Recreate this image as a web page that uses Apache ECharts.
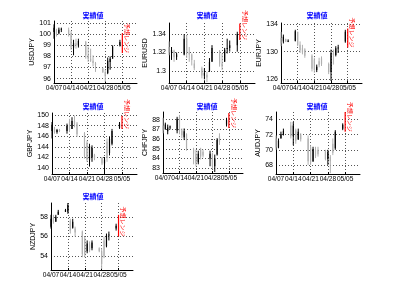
<html>
<head>
<meta charset="utf-8">
<script src="https://cdn.jsdelivr.net/npm/echarts@6/dist/echarts.min.js"></script>
</head>
<body style="margin: 0; background: #fff">
<div id="container" style="width: 400px; height: 301px"></div>
<script type="text/javascript">
// trading days, counted from 04/07
var days = [0, 1, 2, 3, 6, 7, 8, 9, 10, 13, 14, 15, 16, 17, 20, 21, 22, 23, 24, 27];
var tickDays = [0, 7, 14, 21, 28];
var tickLabels = ['04/07', '04/14', '04/21', '04/28', '05/05'];
var forecastDay = 28;
var panelTitle = '実績値';
var rangeLabel = '予想レンジ';

// [open, high, low, close]
var usdjpy = [[100.2,100.9,99.6,100.6],[100.4,100.5,99.8,100.0],[100.1,100.6,100.0,100.4],[100.4,100.6,100.2,100.5],
  [100.4,100.6,99.8,100.0],[100.1,100.3,98.6,98.8],[98.8,99.5,98.1,99.2],[99.2,99.6,98.7,99.0],[99.0,99.6,98.8,99.4],
  [99.3,99.4,97.8,98.1],[98.1,98.9,97.5,97.8],[97.8,98.7,97.5,97.6],[97.6,98.1,97.1,97.4],[97.4,97.5,96.6,97.2],
  [96.9,97.0,96.5,96.6],[96.6,96.8,95.7,96.2],[96.5,97.9,96.4,97.6],[97.5,98.0,96.8,97.8],[97.8,99.0,97.8,98.9],[99.0,99.5,98.9,99.3]];
var eurusd = [[1.326,1.332,1.317,1.320],[1.320,1.326,1.312,1.323],[1.322,1.323,1.310,1.315],[1.315,1.320,1.312,1.318],
  [1.318,1.340,1.317,1.335],[1.335,1.339,1.314,1.320],[1.320,1.326,1.310,1.318],[1.318,1.319,1.306,1.312],[1.308,1.312,1.301,1.303],
  [1.303,1.3047,1.292,1.295],[1.295,1.303,1.291,1.298],[1.296,1.299,1.288,1.293],[1.300,1.314,1.299,1.310],[1.310,1.328,1.310,1.325],
  [1.322,1.3227,1.3047,1.308],[1.308,1.319,1.301,1.305],[1.310,1.325,1.310,1.323],[1.324,1.335,1.319,1.325],[1.325,1.333,1.321,1.328],[1.328,1.3425,1.321,1.340]];
var eurjpy = [[132.0,132.9,130.8,131.2],[131.5,132.5,131.2,132.2],[131.8,131.9,131.4,131.5],[131.5,131.8,131.4,131.6],
  [131.6,133.2,131.5,133.0],[132.9,132.9,130.8,131.0],[131.0,131.5,129.8,130.2],[130.5,131.0,129.6,129.9],[130.3,130.5,129.1,129.4],
  [129.4,129.6,127.1,127.5],[128.8,129.1,126.9,127.3],[127.3,128.1,127.0,127.8],[128.6,129.1,127.7,128.0],[129.0,129.3,127.9,128.2],
  [128.2,128.4,126.7,127.0],[127.0,130.3,125.7,129.8],[129.8,130.3,128.1,129.5],[129.5,130.8,129.3,130.5],[130.5,131.0,129.8,130.6],[131.5,133.2,131.3,132.9]];
var gbpjpy = [[147.0,148.7,145.6,148.2],[147.5,147.8,146.5,146.8],[146.8,147.4,146.5,147.2],[147.2,147.4,146.8,147.0],
  [147.0,148.4,146.5,148.0],[148.8,149.3,146.8,147.2],[147.4,149.6,147.4,148.9],[148.9,149.9,147.7,148.2],[148.4,148.7,145.9,146.4],
  [146.6,146.8,141.8,142.3],[144.8,145.2,141.2,141.6],[141.6,144.6,140.3,144.2],[142.0,144.3,141.2,143.8],[142.5,142.7,141.5,141.8],
  [141.9,142.1,140.6,140.9],[140.9,142.1,138.9,141.6],[145.0,145.6,141.2,141.9],[142.8,145.9,142.4,145.5],[144.6,147.4,144.3,147.0],[147.6,148.7,147.4,148.4]];
var chfjpy = [[87.4,88.2,86.6,86.9],[87.0,87.7,87.0,87.5],[86.8,87.5,86.5,87.2],[87.2,87.4,87.0,87.3],
  [86.9,88.3,86.6,88.1],[88.3,88.5,86.5,86.8],[86.9,87.1,86.1,86.4],[86.2,87.1,85.9,86.8],[86.5,86.6,84.8,85.0],
  [84.9,85.1,83.4,84.5],[84.5,84.9,83.2,83.5],[83.6,84.8,83.4,84.5],[84.9,85.1,83.9,84.2],[84.7,84.9,84.1,84.3],
  [84.0,84.8,83.2,84.5],[84.4,84.6,82.9,83.2],[83.2,84.4,82.6,84.0],[84.4,86.1,84.3,85.9],[86.3,86.6,85.4,85.7],[87.5,88.2,87.3,88.0]];
var audjpy = [[71.5,71.9,70.0,70.3],[70.3,71.5,70.2,71.2],[71.5,72.4,71.5,72.1],[72.0,72.8,71.9,72.5],
  [73.2,73.7,71.5,71.8],[71.8,73.7,70.6,73.2],[72.6,72.8,70.8,71.2],[71.4,72.8,71.3,72.4],[72.0,72.2,71.1,71.4],
  [71.5,71.9,68.0,68.5],[70.3,70.6,68.0,68.3],[68.5,70.4,68.4,70.1],[70.0,70.4,68.9,69.2],[70.0,70.4,69.1,69.4],
  [69.8,70.0,68.6,68.8],[68.8,70.0,68.0,69.7],[69.0,69.3,66.9,68.5],[70.8,71.5,69.3,69.6],[70.2,72.6,70.0,72.4],[72.8,73.5,72.6,73.3]];
var nzdjpy = [[57.0,58.2,56.8,57.8],[57.9,58.2,57.3,57.5],[57.5,58.2,57.5,58.0],[58.2,58.7,58.2,58.5],
  [58.5,58.8,58.5,58.7],[58.5,59.4,58.3,59.2],[57.6,57.8,56.3,56.6],[56.9,57.8,56.8,57.5],[56.8,57.0,56.0,56.4],
  [56.5,56.6,53.9,54.2],[55.8,56.0,53.9,54.2],[54.5,55.6,54.3,55.3],[55.2,55.5,54.4,54.6],[54.8,55.6,54.6,55.4],
  [54.8,54.9,54.4,54.5],[54.5,54.8,52.7,53.2],[55.6,56.0,53.8,54.0],[55.0,56.3,54.9,56.1],[56.1,56.5,55.6,56.2],[56.8,57.3,56.6,57.1]];

// forecast range [low, high]
var usdjpyRange = [98.3, 100.1];
var eurusdRange = [1.3335, 1.3515];
var eurjpyRange = [130.6, 133.4];
var gbpjpyRange = [147.4, 149.9];
var chfjpyRange = [87.15, 88.7];
var audjpyRange = [72.4, 75.0];
var nzdjpyRange = [56.0, 58.2];

// y tick values
var usdjpyTicks = [96, 97, 98, 99, 100, 101];
var eurusdTicks = [1.30, 1.32, 1.34];
var eurjpyTicks = [126, 130, 134];
var gbpjpyTicks = [140, 142, 144, 146, 148, 150];
var chfjpyTicks = [83, 84, 85, 86, 87, 88];
var audjpyTicks = [68, 70, 72, 74];
var nzdjpyTicks = [54, 56, 58];

var panels = [
  { name: 'USDJPY', ohlc: usdjpy, range: usdjpyRange, ticks: usdjpyTicks, min: 95.6, max: 101.2, grid: [54, 21, 83, 62], nameGap: 18, title: [93, 12] },
  { name: 'EURUSD', ohlc: eurusd, range: eurusdRange, ticks: eurusdTicks, min: 1.287, max: 1.352, grid: [169, 23, 86, 60], nameGap: 18, title: [207, 12] },
  { name: 'EURJPY', ohlc: eurjpy, range: eurjpyRange, ticks: eurjpyTicks, min: 125.4, max: 134.2, grid: [281, 23, 81, 60], nameGap: 16, title: [317, 12] },
  { name: 'GBPJPY', ohlc: gbpjpy, range: gbpjpyRange, ticks: gbpjpyTicks, min: 138.9, max: 150.4, grid: [52, 113, 85, 61], nameGap: 16, title: [93, 103] },
  { name: 'CHFJPY', ohlc: chfjpy, range: chfjpyRange, ticks: chfjpyTicks, min: 82.5, max: 88.8, grid: [163, 112, 80, 61], nameGap: 12, title: [207, 103] },
  { name: 'AUDJPY', ohlc: audjpy, range: audjpyRange, ticks: audjpyTicks, min: 66.8, max: 75.0, grid: [276, 112, 84, 62], nameGap: 12, title: [317, 103] },
  { name: 'NZDJPY', ohlc: nzdjpy, range: nzdjpyRange, ticks: nzdjpyTicks, min: 52.6, max: 59.4, grid: [51, 203, 82, 67], nameGap: 12, title: [93, 193] }
];

var font = 'Liberation Sans, Arial, sans-serif';

function renderBar(params, api) {
  var hi = api.coord([api.value(0), api.value(2)]);
  var lo = api.coord([api.value(0), api.value(3)]);
  var o = api.coord([api.value(0), api.value(1)]);
  var c = api.coord([api.value(0), api.value(4)]);
  var color = api.value(4) >= api.value(1) ? '#000' : '#b0b0b0';
  var top = Math.min(o[1], c[1]);
  return {
    type: 'group',
    children: [
      { type: 'line', shape: { x1: hi[0], y1: hi[1], x2: lo[0], y2: lo[1] }, style: { stroke: color, lineWidth: 1 } },
      { type: 'rect', shape: { x: hi[0] - 0.6, y: top, width: 1.2, height: Math.max(1, Math.abs(o[1] - c[1])) }, style: { fill: color } }
    ]
  };
}

function renderRange(params, api) {
  var lo = api.coord([api.value(0), api.value(1)]);
  var hi = api.coord([api.value(0), api.value(2)]);
  return {
    type: 'group',
    children: [
      { type: 'line', shape: { x1: lo[0], y1: lo[1], x2: hi[0], y2: hi[1] }, style: { stroke: '#ff0000', lineWidth: 1.2 } },
      { type: 'text', x: lo[0] + 5, y: lo[1], rotation: -Math.PI / 2,
        style: { text: rangeLabel, fill: '#ff0000', fontSize: 6, align: 'right', verticalAlign: 'middle', fontFamily: 'Noto Sans CJK JP' } }
    ]
  };
}

var option = { animation: false, title: [], grid: [], xAxis: [], yAxis: [], series: [] };

panels.forEach(function (p, i) {
  option.title.push({
    text: panelTitle, left: p.title[0], top: p.title[1], textAlign: 'center', padding: 0,
    textStyle: { fontSize: 7, color: '#0000ff', fontWeight: 'bold', fontFamily: 'Noto Sans CJK JP' }
  });
  option.grid.push({ left: p.grid[0], top: p.grid[1], width: p.grid[2], height: p.grid[3] });
  option.xAxis.push({
    type: 'value', gridIndex: i, min: 0, max: 34,
    axisLine: { lineStyle: { color: '#000', width: 1 } },
    axisTick: { inside: true, length: 2, customValues: tickDays, lineStyle: { color: '#000' } },
    axisLabel: { customValues: tickDays, interval: 0, margin: 2, fontSize: 6.6, color: '#000', fontFamily: font,
      hideOverlap: false, showMinLabel: true, showMaxLabel: true,
      formatter: function (v) { return tickLabels[tickDays.indexOf(v)] || ''; } },
    splitLine: { show: true, lineStyle: { type: [1, 2], color: '#555', width: 1 } }
  });
  option.yAxis.push({
    type: 'value', gridIndex: i, min: p.min, max: p.max,
    name: p.name, nameLocation: 'middle', nameGap: p.nameGap,
    nameTextStyle: { fontSize: 7, color: '#000', fontFamily: font },
    axisLine: { show: true, lineStyle: { color: '#000', width: 1 } },
    axisTick: { show: false, customValues: p.ticks },
    axisLabel: { customValues: p.ticks, margin: 3, fontSize: 7, color: '#000', fontFamily: font,
      hideOverlap: false, showMinLabel: true, showMaxLabel: true },
    splitLine: { show: true, lineStyle: { type: [1, 2], color: '#555', width: 1 } }
  });
  option.series.push({
    type: 'custom', xAxisIndex: i, yAxisIndex: i, renderItem: renderBar, silent: true,
    data: days.map(function (d, j) { return [d].concat(p.ohlc[j]); })
  });
  option.series.push({
    type: 'custom', xAxisIndex: i, yAxisIndex: i, renderItem: renderRange, silent: true,
    data: [[forecastDay, p.range[0], p.range[1]]]
  });
});

var myChart = echarts.init(document.getElementById('container'));
myChart.setOption(option);
</script>
</body>
</html>
